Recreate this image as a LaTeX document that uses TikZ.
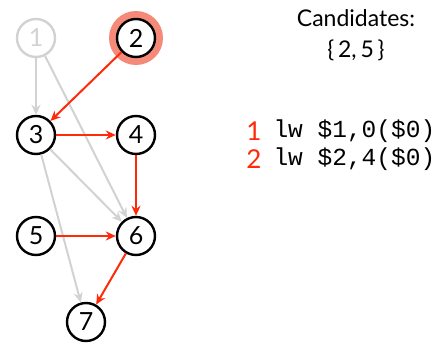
\documentclass[tikz,border=0pt]{standalone}
\usepackage{fontspec}
\setmainfont{Lato}
\setmonofont{Liberation Mono}
\usetikzlibrary{positioning,arrows.meta}
\definecolor{hot}{HTML}{FF2A0A}
\definecolor{pale}{HTML}{D2D2D2}
\definecolor{halo}{HTML}{F58A7A}

\begin{document}
\begin{tikzpicture}[
    x=1pt,y=-1pt,
    vtx/.style={circle,draw=black,line width=2.4pt,minimum size=38pt,
                inner sep=0pt,font=\fontsize{25}{25}\selectfont},
    dim/.style={vtx,draw=pale,text=pale},
    dep/.style={draw=pale,line width=2pt,-{Stealth[length=10pt,width=9pt]}},
    hotdep/.style={draw=hot,line width=2pt,-{Stealth[length=10pt,width=9pt]}},
    label/.style={font=\fontsize{23}{31}\selectfont,align=center},
    code/.style={anchor=west,font=\fontsize{24.5}{24}\selectfont\ttfamily},
    step no/.style={anchor=east,text=hot,font=\fontsize{26}{26}\selectfont}
]
  \useasboundingbox (0,0) rectangle (446,342);

  % Dependence graph of the instructions.
  \node[dim] (n1) at (36,38)  {1};
  \node[vtx,draw=halo,line width=8pt,minimum size=46pt] (h2) at (136,38) {};
  \node[vtx,fill=white] (n2) at (136,38) {2};
  \node[vtx] (n3) at (36,135)  {3};
  \node[vtx] (n4) at (136,135) {4};
  \node[vtx] (n5) at (36,236)  {5};
  \node[vtx] (n6) at (136,236) {6};
  \node[vtx] (n7) at (86,322)  {7};

  % Edges already satisfied (grey) and the remaining ones (red).
  \draw[dep] (n1) -- (n3);
  \draw[dep] (n1) -- (n6);
  \draw[dep] (n3) -- (n6);
  \draw[dep] (n3) -- (n7);
  \draw[hotdep] (n2) -- (n3);
  \draw[hotdep] (n3) -- (n4);
  \draw[hotdep] (n4) -- (n6);
  \draw[hotdep] (n5) -- (n6);
  \draw[hotdep] (n6) -- (n7);

  % Ready list and the scheduled code.
  \node[label] (cand) at (356,35) {Candidates:\\\{\,2,\,5\,\}};
  \node[code] (c1) at (270,131) {lw \$1,0(\$0)};
  \node[code] (c2) at (270,159) {lw \$2,4(\$0)};
  \node[step no] (s1) at ([xshift=-5pt]c1.west) {1};
  \node[step no] (s2) at ([xshift=-5pt]c2.west) {2};
\end{tikzpicture}
\end{document}
